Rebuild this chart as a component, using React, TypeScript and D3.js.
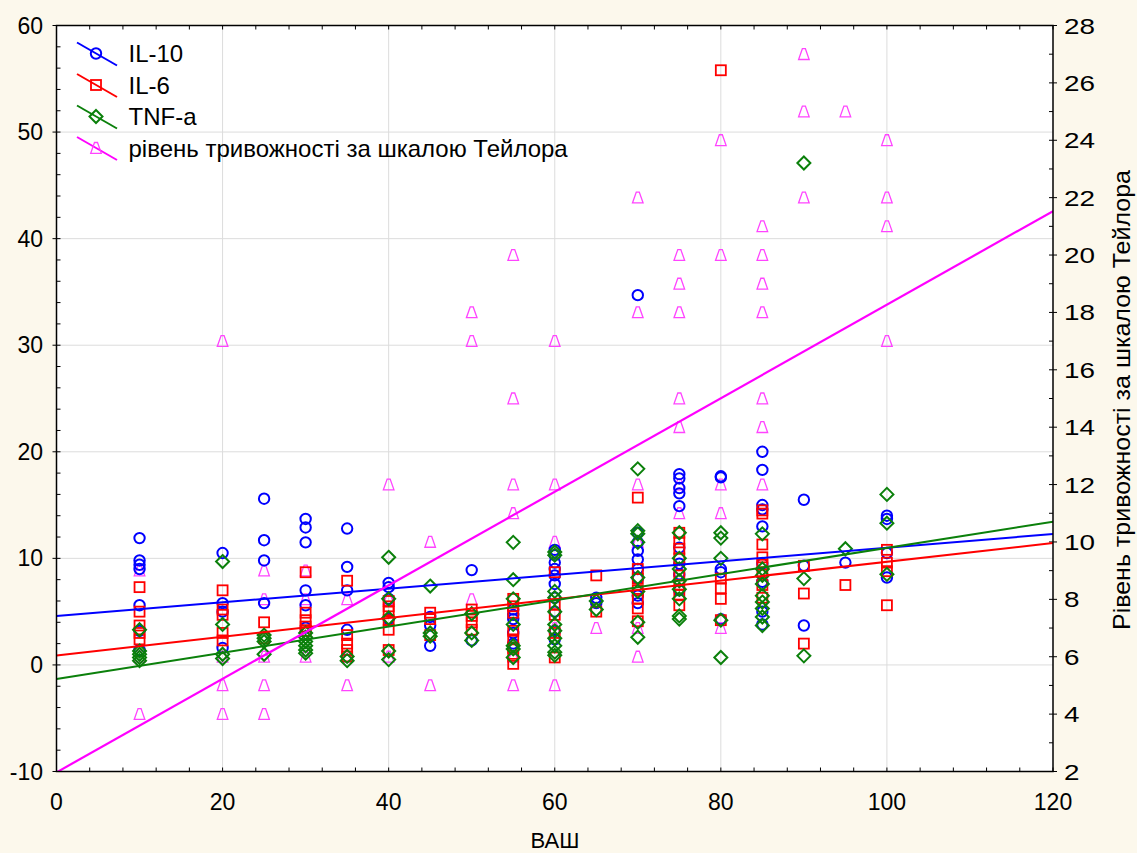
import React from "react";
import * as d3 from "d3";

// ---- data ----
const xTicks = [0, 20, 40, 60, 80, 100, 120];
const yLeftTicks = [-10, 0, 10, 20, 30, 40, 50, 60];
const yRightTicks = [2, 4, 6, 8, 10, 12, 14, 16, 18, 20, 22, 24, 26, 28];

// [ВАШ, value]
const il10: [number, number][] = [
  [10, 11.9], [10, 9.8], [10, 9.4], [10, 9.0], [10, 5.6], [10, 3.2], [10, 1.4],
  [20, 10.5], [20, 5.8], [20, 5.0], [20, 1.6],
  [25, 15.6], [25, 11.7], [25, 9.8], [25, 5.8],
  [30, 13.7], [30, 12.9], [30, 11.5], [30, 7.0], [30, 5.6], [30, 3.5],
  [35, 12.8], [35, 9.2], [35, 7.0], [35, 3.3],
  [40, 7.7], [40, 7.3], [40, 6.2], [40, 4.3],
  [45, 4.5], [45, 3.7], [45, 1.8],
  [50, 8.9], [50, 2.3],
  [55, 5.2], [55, 4.7], [55, 4.3], [55, 3.0], [55, 2.0],
  [60, 10.8], [60, 10.3], [60, 9.6], [60, 9.0], [60, 8.4], [60, 7.6], [60, 6.3], [60, 5.0], [60, 3.2], [60, 2.4],
  [65, 6.3], [65, 5.8],
  [70, 34.7], [70, 12.4], [70, 11.5], [70, 10.7], [70, 9.9], [70, 9.0], [70, 8.1], [70, 6.5], [70, 5.8],
  [75, 17.9], [75, 17.5], [75, 16.6], [75, 16.1], [75, 14.9], [75, 11.0], [75, 9.5], [75, 8.5], [75, 7.0],
  [80, 17.7], [80, 17.6], [80, 9.0], [80, 8.7], [80, 4.3],
  [85, 20.0], [85, 18.3], [85, 15.0], [85, 14.6], [85, 13.0], [85, 9.5], [85, 7.8], [85, 5.0], [85, 3.8],
  [90, 15.5], [90, 9.3], [90, 3.7],
  [95, 9.6],
  [100, 14.0], [100, 13.7], [100, 10.5], [100, 8.2],
];

const il6: [number, number][] = [
  [10, 7.3], [10, 5.0], [10, 3.7], [10, 3.0], [10, 2.4],
  [20, 7.0], [20, 5.2], [20, 4.7], [20, 3.0], [20, 2.3],
  [25, 4.0], [25, 2.5],
  [30, 8.7], [30, 4.9], [30, 4.2], [30, 3.6], [30, 3.2],
  [35, 7.9], [35, 2.8], [35, 2.0], [35, 1.4], [35, 0.8],
  [40, 6.0], [40, 5.5], [40, 5.0], [40, 4.2], [40, 3.3], [40, 1.4],
  [45, 4.9], [45, 4.3], [45, 2.8],
  [50, 5.2], [50, 4.6], [50, 4.0], [50, 3.3],
  [55, 6.2], [55, 5.5], [55, 4.9], [55, 3.2], [55, 2.4], [55, 1.6], [55, 0.85], [55, 0.1],
  [60, 8.7], [60, 5.7], [60, 4.7], [60, 3.0], [60, 0.7],
  [65, 8.4], [65, 5.0],
  [70, 15.7], [70, 9.0], [70, 8.1], [70, 7.0], [70, 6.2], [70, 5.3], [70, 4.1],
  [75, 12.4], [75, 11.5], [75, 10.9], [75, 10.0], [75, 8.4], [75, 7.5], [75, 6.6], [75, 5.6],
  [80, 55.8], [80, 8.1], [80, 7.2], [80, 6.2], [80, 4.2],
  [85, 14.5], [85, 14.2], [85, 11.3], [85, 10.1], [85, 9.4], [85, 8.7], [85, 7.5], [85, 6.3],
  [90, 9.3], [90, 6.7], [90, 2.0],
  [95, 7.5],
  [100, 10.8], [100, 9.6], [100, 8.8], [100, 5.6],
];

const tnf: [number, number][] = [
  [10, 3.3], [10, 1.3], [10, 1.0], [10, 0.7], [10, 0.4],
  [20, 9.7], [20, 3.8], [20, 1.0], [20, 0.6],
  [25, 2.8], [25, 2.5], [25, 2.2], [25, 1.0],
  [30, 3.0], [30, 2.6], [30, 2.2], [30, 1.8], [30, 1.4], [30, 1.1],
  [35, 0.8], [35, 0.4],
  [40, 10.1], [40, 6.2], [40, 4.4], [40, 1.3], [40, 0.5],
  [45, 7.4], [45, 3.0], [45, 2.7],
  [50, 4.8], [50, 3.0], [50, 2.3],
  [55, 11.5], [55, 8.0], [55, 6.2], [55, 3.8], [55, 1.8], [55, 1.5], [55, 0.7],
  [60, 10.6], [60, 10.3], [60, 6.9], [60, 6.3], [60, 5.0], [60, 3.8], [60, 3.2], [60, 2.5], [60, 1.8], [60, 1.2], [60, 0.9],
  [65, 6.0], [65, 5.2],
  [70, 18.4], [70, 12.6], [70, 12.3], [70, 11.5], [70, 8.2], [70, 6.9], [70, 4.0], [70, 2.6],
  [75, 12.4], [75, 10.0], [75, 9.0], [75, 7.9], [75, 7.1], [75, 6.2], [75, 4.6], [75, 4.3],
  [80, 12.4], [80, 11.9], [80, 10.0], [80, 4.2], [80, 0.7],
  [85, 12.3], [85, 9.0], [85, 8.4], [85, 7.6], [85, 6.5], [85, 5.9], [85, 5.3], [85, 4.5], [85, 3.7],
  [90, 47.1], [90, 8.1], [90, 0.85],
  [95, 10.9],
  [100, 16.0], [100, 13.3], [100, 8.5],
];

// anxiety level (right axis)
const anxiety: [number, number][] = [
  [10, 9], [10, 6], [10, 4],
  [20, 17], [20, 6], [20, 5], [20, 4],
  [25, 9], [25, 8], [25, 6], [25, 5], [25, 4],
  [30, 9], [30, 8], [30, 6],
  [35, 8], [35, 6], [35, 5],
  [40, 12], [40, 8], [40, 6],
  [45, 10], [45, 5],
  [50, 18], [50, 17], [50, 8],
  [55, 20], [55, 15], [55, 12], [55, 11], [55, 6], [55, 5],
  [60, 17], [60, 12], [60, 10], [60, 7], [60, 5],
  [65, 8], [65, 7],
  [70, 22], [70, 18], [70, 12], [70, 10], [70, 7], [70, 6],
  [75, 20], [75, 19], [75, 18], [75, 15], [75, 14], [75, 12], [75, 11], [75, 9],
  [80, 24], [80, 20], [80, 12], [80, 11], [80, 7],
  [85, 21], [85, 20], [85, 19], [85, 18], [85, 15], [85, 14], [85, 12],
  [90, 27], [90, 25], [90, 22],
  [95, 25],
  [100, 24], [100, 22], [100, 21], [100, 17],
];

// linear fits: [intercept, slope]
const fitIL10 = [4.6, 0.064];
const fitIL6 = [0.88, 0.088];
const fitTNF = [-1.32, 0.123];
const fitAnx = [1.97, 0.163];

const legendLabels = ["IL-10", "IL-6", "TNF-a", "рівень тривожності за шкалою Тейлора"];
const xTitle = "ВАШ";
const rightTitle = "Рівень тривожності за шкалою Тейлора";

const W = 1137;
const H = 853;
const FONT = "'Liberation Sans', Arial, sans-serif";

const BLUE = "#0000ff";
const RED = "#ff0000";
const GREEN = "#0b800b";
const MAG = "#ff00ff";
const MAG_LIGHT = "#ff44ff";

function Marker({ kind, x, y }: { kind: string; x: number; y: number }) {
  if (kind === "circle")
    return <circle cx={x} cy={y} r={5.2} fill="none" stroke={BLUE} strokeWidth={2} />;
  if (kind === "square")
    return <rect x={x - 5} y={y - 5} width={10} height={10} fill="none" stroke={RED} strokeWidth={1.8} />;
  if (kind === "diamond")
    return (
      <path
        d={`M${x},${y - 6.5} L${x + 6.5},${y} L${x},${y + 6.5} L${x - 6.5},${y} Z`}
        fill="none"
        stroke={GREEN}
        strokeWidth={2}
      />
    );
  return (
    <path
      d={`M${x - 1.5},${y - 5.5} L${x + 1.5},${y - 5.5} L${x + 5.3},${y + 5.3} L${x - 5.3},${y + 5.3} Z`}
      fill="none"
      stroke={MAG_LIGHT}
      strokeWidth={1.3}
    />
  );
}

export default function App() {
  const left = 56.5, right = 1053, top = 25.5, bottom = 771.5;
  const x = d3.scaleLinear().domain([0, 120]).range([left, right]);
  const yL = d3.scaleLinear().domain([-10, 60]).range([bottom, top]);
  const yR = d3.scaleLinear().domain([2, 28]).range([bottom, top]);

  const xMinor = d3.range(0, 121, 4);
  const yLMinor = d3.range(-10, 61, 2);
  const yRMinor = d3.range(2, 29, 1);

  const fitLine = (f: number[], ys: d3.ScaleLinear<number, number>) => {
    const line = d3.line<number>().x((v) => x(v)).y((v) => ys(f[0] + f[1] * v));
    return line([0, 120]) || "";
  };

  const legendY = [53.5, 85, 116.5, 148];
  const legendKinds = ["circle", "square", "diamond", "triangle"];
  const legendColors = [BLUE, RED, GREEN, MAG];

  return (
    <svg width={W} height={H} style={{ position: "absolute", left: 0, top: 0, display: "block" }}>
      <defs>
        <clipPath id="plotclip">
          <rect x={left} y={top} width={right - left} height={bottom - top} />
        </clipPath>
      </defs>
      <rect x={0} y={0} width={W} height={H} fill="#fcf8ec" />
      <rect x={left} y={top} width={right - left} height={bottom - top} fill="#ffffff" />

      {/* grid */}
      {xTicks.slice(1, -1).map((t) => (
        <line key={"gx" + t} x1={x(t)} x2={x(t)} y1={top} y2={bottom} stroke="#dcdcdc" strokeWidth={1} />
      ))}
      {yLeftTicks.slice(1, -1).map((t) => (
        <line key={"gy" + t} x1={left} x2={right} y1={yL(t)} y2={yL(t)} stroke="#dcdcdc" strokeWidth={1} />
      ))}

      {/* ticks */}
      {xMinor.map((t) => (
        <g key={"xt" + t}>
          <line x1={x(t)} x2={x(t)} y1={bottom} y2={bottom - 4} stroke="#000" strokeWidth={1} />
          <line x1={x(t)} x2={x(t)} y1={top} y2={top + 4} stroke="#000" strokeWidth={1} />
        </g>
      ))}
      {yLMinor.map((t) => (
        <line key={"yl" + t} x1={left} x2={left + 4} y1={yL(t)} y2={yL(t)} stroke="#000" strokeWidth={1} />
      ))}
      {yLeftTicks.map((t) => (
        <line key={"ylm" + t} x1={left - 4} x2={left} y1={yL(t)} y2={yL(t)} stroke="#000" strokeWidth={1} />
      ))}
      {yRMinor.map((t) => (
        <line key={"yr" + t} x1={right - 4} x2={right} y1={yR(t)} y2={yR(t)} stroke="#000" strokeWidth={1} />
      ))}
      {yRightTicks.map((t) => (
        <line key={"yrm" + t} x1={right} x2={right + 4} y1={yR(t)} y2={yR(t)} stroke="#000" strokeWidth={1} />
      ))}

      {/* markers */}
      <g clipPath="url(#plotclip)">
        {anxiety.map((d, i) => (
          <Marker key={"a" + i} kind="triangle" x={x(d[0])} y={yR(d[1])} />
        ))}
        {il10.map((d, i) => (
          <Marker key={"c" + i} kind="circle" x={x(d[0])} y={yL(d[1])} />
        ))}
        {il6.map((d, i) => (
          <Marker key={"s" + i} kind="square" x={x(d[0])} y={yL(d[1])} />
        ))}
        {tnf.map((d, i) => (
          <Marker key={"d" + i} kind="diamond" x={x(d[0])} y={yL(d[1])} />
        ))}
        <path d={fitLine(fitIL10, yL)} stroke={BLUE} strokeWidth={2} fill="none" />
        <path d={fitLine(fitIL6, yL)} stroke={RED} strokeWidth={2} fill="none" />
        <path d={fitLine(fitTNF, yL)} stroke={GREEN} strokeWidth={2} fill="none" />
        <path d={fitLine(fitAnx, yR)} stroke={MAG} strokeWidth={2.2} fill="none" />
      </g>

      <rect x={left} y={top} width={right - left} height={bottom - top} fill="none" stroke="#000" strokeWidth={1.5} />

      {/* legend */}
      {legendLabels.map((lab, i) => (
        <g key={"lg" + i}>
          <line x1={77} y1={legendY[i] - 11} x2={117} y2={legendY[i] + 12} stroke={legendColors[i]} strokeWidth={2} />
          <Marker kind={legendKinds[i]} x={96} y={legendY[i]} />
          <text x={128.5} y={legendY[i] + 8.5} fontFamily={FONT} fontSize={24} fill="#000">
            {lab}
          </text>
        </g>
      ))}

      {/* axis labels */}
      {yLeftTicks.map((t) => (
        <text key={"lt" + t} x={43} y={yL(t) + 8} textAnchor="end" fontFamily={FONT} fontSize={23} fill="#000">
          {t}
        </text>
      ))}
      {xTicks.map((t) => (
        <text key={"bt" + t} x={x(t)} y={810} textAnchor="middle" fontFamily={FONT} fontSize={23} fill="#000">
          {t}
        </text>
      ))}
      {yRightTicks.map((t) => (
        <text
          key={"rt" + t}
          x={1064}
          y={yR(t) + 8}
          textAnchor="start"
          fontFamily={FONT}
          fontSize={22}
          fill="#000"
          textLength={String(t).length * 15.5}
          lengthAdjust="spacingAndGlyphs"
        >
          {t}
        </text>
      ))}
      <text x={555} y={848} textAnchor="middle" fontFamily={FONT} fontSize={22} fill="#000">
        {xTitle}
      </text>
      <text
        transform={`translate(1130, 400) rotate(-90)`}
        textAnchor="middle"
        fontFamily={FONT}
        fontSize={23}
        fill="#000"
        textLength={460}
        lengthAdjust="spacingAndGlyphs"
      >
        {rightTitle}
      </text>
    </svg>
  );
}
